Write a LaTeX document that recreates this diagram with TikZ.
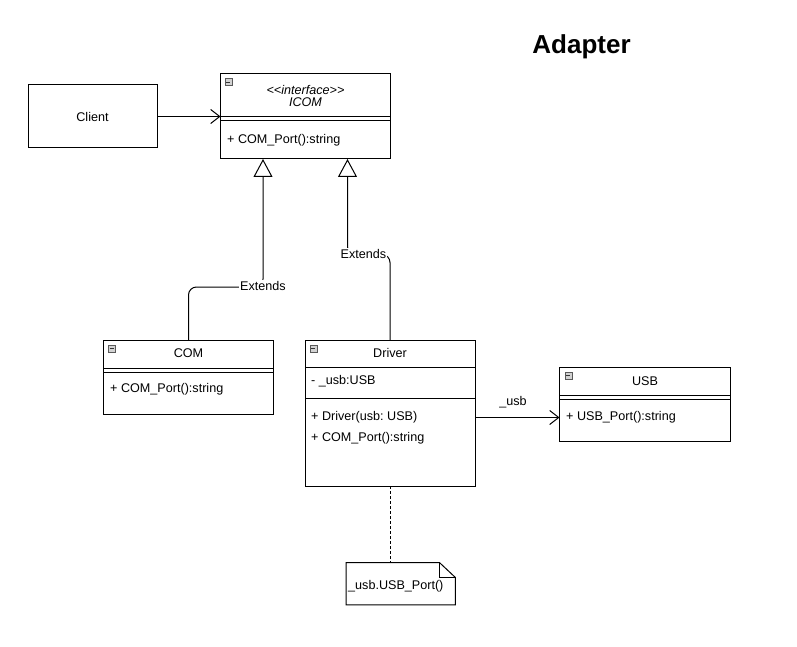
\documentclass[tikz,border=0pt]{standalone}
\usepackage{fontspec}
\setmainfont{Liberation Sans}
\usetikzlibrary{arrows.meta}
\frenchspacing
\begin{document}
\begin{tikzpicture}[x=1pt,y=-1pt,
  lw/.style={line width=1pt},
  box/.style={draw, line width=1pt, anchor=north west, inner sep=0pt, outer sep=0pt},
  txt/.style={inner sep=0pt, font=\fontsize{12.6}{14}\selectfont},
  mem/.style={txt, anchor=west},
  lbl/.style={txt, fill=white, inner sep=1pt},
  icon/.style={draw=gray!70!black, fill=gray!35, line width=0.7pt, minimum size=7pt, inner sep=0pt, anchor=north west},
  assoc/.style={lw, -{Straight Barb[length=9pt,width=14pt,line width=1pt]}},
  gen/.style={lw, rounded corners=8pt, -{Triangle[open,length=18pt,width=19pt,line width=1pt,fill=white]}}
]
\useasboundingbox (0,0) rectangle (797,647);

% title
\node[inner sep=0pt, font=\fontsize{26}{30}\selectfont\bfseries] (title) at (581.5,46.5) {Adapter};

% Client
\node[box, minimum width=129pt, minimum height=63pt] (client) at (28,85) {};
\node[txt] (clientt) at (client.center) {Client};

% ICOM
\node[box, minimum width=170pt, minimum height=85pt] (icom) at (220.5,74) {};
\draw[lw] (220.5,116.5) -- (390.5,116.5) (220.5,120.5) -- (390.5,120.5);
\node[txt, font=\fontsize{12.6}{14}\selectfont\itshape] (icoms) at (305.5,89.5) {{<}{<}interface{>}{>}};
\node[txt, font=\fontsize{12.6}{14}\selectfont\itshape] (icomn) at (305.5,102) {ICOM};
\node[mem] (icomm) at (227,140) {+ COM\_Port():string};
\node[icon] (icomi) at (224.5,78.5) {};
\draw[gray!40!black, line width=0.8pt] (226,82) -- (230,82);

% COM
\node[box, minimum width=170pt, minimum height=74pt] (com) at (103.5,340) {};
\draw[lw] (103.5,368) -- (273.5,368) (103.5,372) -- (273.5,372);
\node[txt] (comn) at (188.5,353) {COM};
\node[mem] (comm) at (110,389) {+ COM\_Port():string};
\node[icon] (comi) at (108,344.5) {};
\draw[gray!40!black, line width=0.8pt] (109.5,348) -- (113.5,348);

% Driver
\node[box, minimum width=170pt, minimum height=146pt] (driver) at (305,340) {};
\draw[lw] (305,367.5) -- (475,367.5) (305,398.5) -- (475,398.5);
\node[txt] (drvn) at (390,353) {Driver};
\node[mem] (drva) at (311,381.5) {- \_usb:USB};
\node[mem] (drvm1) at (311,417.5) {+ Driver(usb: USB)};
\node[mem] (drvm2) at (311,438) {+ COM\_Port():string};
\node[icon] (drvi) at (309.5,344.5) {};
\draw[gray!40!black, line width=0.8pt] (311,348) -- (315,348);

% USB
\node[box, minimum width=171pt, minimum height=74pt] (usb) at (559.5,367) {};
\draw[lw] (559.5,395) -- (730.5,395) (559.5,399) -- (730.5,399);
\node[txt] (usbn) at (645,381) {USB};
\node[mem] (usbm) at (566,417) {+ USB\_Port():string};
\node[icon] (usbi) at (564.5,371.5) {};
\draw[gray!40!black, line width=0.8pt] (566,375) -- (570,375);

% Note
\node[anchor=north west, inner sep=0pt, minimum width=109pt, minimum height=42pt] (note) at (346,562.5) {};
\draw[lw] (note.north west) -- ([xshift=-16pt]note.north east) -- ([yshift=-15pt]note.north east) -- (note.south east) -- (note.south west) -- cycle;
\draw[lw] ([xshift=-16pt]note.north east) -- ([xshift=-16pt,yshift=-15pt]note.north east) -- ([yshift=-15pt]note.north east);
\node[mem] (notet) at (348,586.5) {\_usb.USB\_Port()};

% connectors
\draw[assoc] (client.east) -- (client.east -| icom.west);

\coordinate (e1) at (263,287);
\draw[gen] (com.north) |- (e1) -- (e1 |- icom.south);
\node[lbl] (l1) at (263,286) {Extends};

\coordinate (e2) at (347.5,254.5);
\draw[gen] (driver.north) |- (e2) -- (e2 |- icom.south);
\node[lbl] (l2) at (363.5,254) {Extends};

\coordinate (a1) at (475,417.5);
\draw[assoc] (a1) -- (a1 -| usb.west);
\node[txt] (l3) at (513,402) {\_usb};

\draw[lw, dashed, dash pattern=on 3pt off 2pt] (driver.south) -- (driver.south |- note.north);
\end{tikzpicture}
\end{document}
